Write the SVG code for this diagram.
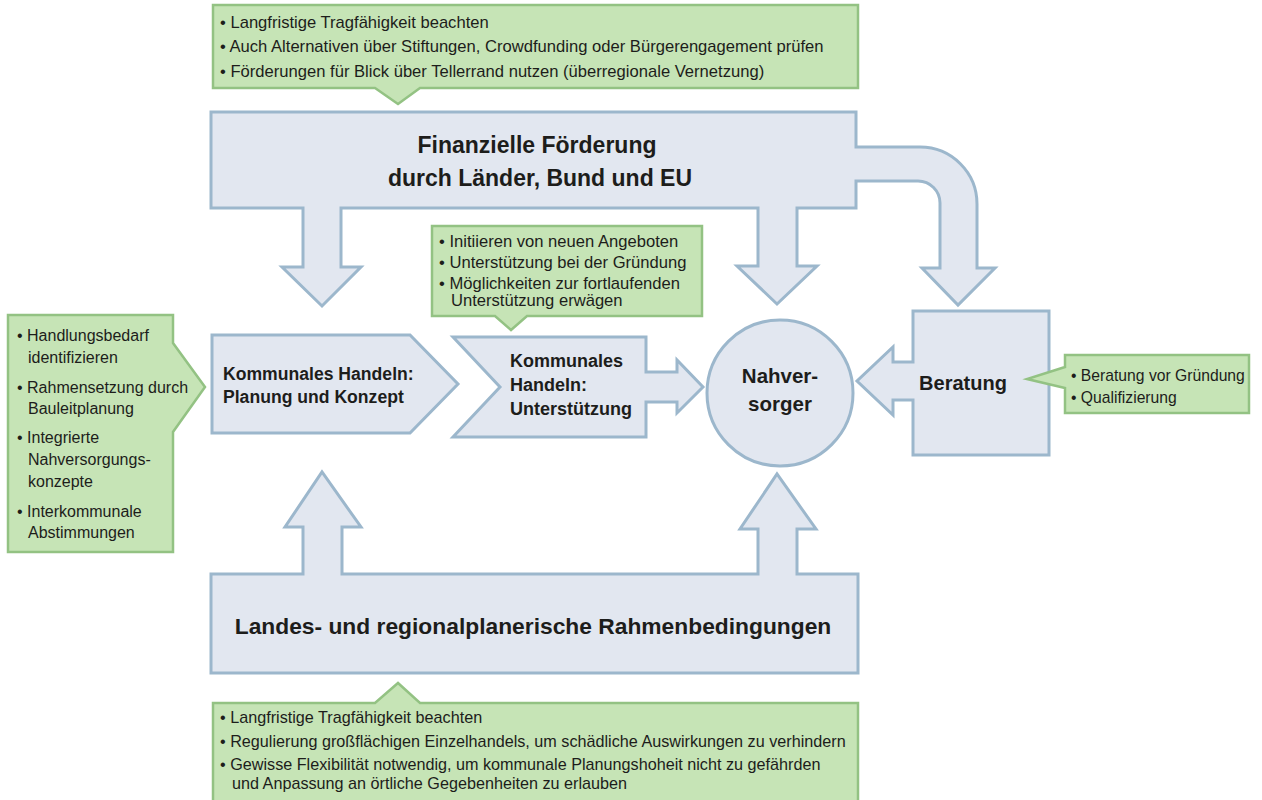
<svg xmlns="http://www.w3.org/2000/svg" width="1262" height="800" viewBox="0 0 1262 800">
<style>
.note{fill:#c6e4b6;stroke:#93c283;stroke-width:2.5;stroke-linejoin:miter}
.blk{fill:#e2e7f0;stroke:#9cb7cc;stroke-width:3;stroke-linejoin:miter}
.t{font-family:"Liberation Sans",Arial,sans-serif;font-size:16.6px;fill:#1d1d1b}
.s{font-size:16px}
.r{font-size:15.7px}
.u{font-size:16.2px}
.b{font-family:"Liberation Sans",Arial,sans-serif;font-weight:bold;fill:#1d1d1b}
</style>
<rect width="1262" height="800" fill="#ffffff"/>
<g id="connectors">
<path class="blk" d="M211,112 H856 V147 H920 A57,57 0 0 1 977,204 V268 H995 L958,305 L922,268 H940 V203 A22,22 0 0 0 918,181 H856 V208 H797 V266 H817 L777,304 L737,266 H758 V208 H341 V267 H361 L322,306 L282,267 H303 V208 H211 Z"/>
<path class="blk" d="M211,574 H303 V527 H285 L322,472 L361,527 H342 V574 H758 V529 H740 L777,474 L816,529 H797 V574 H858 V673 H211 Z"/>
</g>
<g id="foerderung">
<text class="b" font-size="23" text-anchor="middle" x="537" y="153">Finanzielle Förderung</text>
<text class="b" font-size="23" text-anchor="middle" x="540" y="186">durch Länder, Bund und EU</text>
</g>
<g id="rahmen">
<text class="b" font-size="22.8" text-anchor="middle" x="533" y="634">Landes- und regionalplanerische  Rahmenbedingungen</text>
</g>
<g id="note-top">
<path class="note" d="M213,5 H858 V88 H420 L398,104 L375,88 H213 Z"/>
<text class="t" x="220" y="28">• Langfristige Tragfähigkeit beachten</text>
<text class="t" x="220" y="52">• Auch Alternativen über Stiftungen, Crowdfunding oder Bürgerengagement prüfen</text>
<text class="t" x="220" y="77">• Förderungen für Blick über Tellerrand nutzen (überregionale Vernetzung)</text>
</g>
<g id="note-mid">
<path class="note" d="M432,226 H702 V316 H527 L511,330 L495,316 H432 Z"/>
<text class="t" x="439" y="247">• Initiieren von neuen Angeboten</text>
<text class="t" x="439" y="268">• Unterstützung bei der Gründung</text>
<text class="t" x="439" y="289">• Möglichkeiten zur fortlaufenden</text>
<text class="t" x="451" y="306">Unterstützung erwägen</text>
</g>
<g id="note-left">
<path class="note" d="M8,315 H173 V343 L205,387 L173,432 V552 H8 Z"/>
<text class="t s" x="17" y="341">• Handlungsbedarf</text>
<text class="t s" x="28" y="363">identifizieren</text>
<text class="t s" x="17" y="393">• Rahmensetzung durch</text>
<text class="t s" x="28" y="414">Bauleitplanung</text>
<text class="t s" x="17" y="443">• Integrierte</text>
<text class="t s" x="28" y="465">Nahversorgungs-</text>
<text class="t s" x="28" y="487">konzepte</text>
<text class="t s" x="17" y="517">• Interkommunale</text>
<text class="t s" x="28" y="538">Abstimmungen</text>
</g>
<g id="planung">
<path class="blk" d="M212,335 H410 L458,384 L410,433 H212 Z"/>
<text class="b" font-size="17.6" x="223" y="380">Kommunales Handeln:</text>
<text class="b" font-size="17.6" x="223" y="403">Planung und Konzept</text>
</g>
<g id="unterstuetzung">
<path class="blk" d="M453,337 H646 V372 H677 V360 L703,387 L677,413 V402 H646 V437 H453 L500,387 Z"/>
<text class="b" font-size="18" x="510" y="367">Kommunales</text>
<text class="b" font-size="18" x="510" y="391">Handeln:</text>
<text class="b" font-size="18" x="510" y="415">Unterstützung</text>
</g>
<g id="nahversorger">
<circle class="blk" cx="780" cy="393" r="73"/>
<text class="b" font-size="20.5" text-anchor="middle" x="780" y="383">Nahver-</text>
<text class="b" font-size="20.5" text-anchor="middle" x="780" y="411">sorger</text>
</g>
<g id="beratung">
<path class="blk" d="M913,311 H1049 V455 H913 V400 H893 V415 L857,381 L893,347 V362 H913 Z"/>
<text class="b" font-size="20" text-anchor="middle" x="963" y="390">Beratung</text>
</g>
<g id="note-right">
<path class="note" d="M1065,355 H1249 V413 H1065 V388 L1027,379 L1065,367 Z"/>
<text class="t r" x="1071" y="381">• Beratung vor Gründung</text>
<text class="t r" x="1071" y="403">• Qualifizierung</text>
</g>
<g id="note-bottom">
<path class="note" d="M213,703 H375 L398,683 L420,703 H858 V806 H213 Z"/>
<text class="t u" x="220" y="723">• Langfristige Tragfähigkeit beachten</text>
<text class="t u" x="220" y="747">• Regulierung großflächigen Einzelhandels, um schädliche Auswirkungen zu verhindern</text>
<text class="t u" x="220" y="770">• Gewisse Flexibilität notwendig, um kommunale Planungshoheit nicht zu gefährden</text>
<text class="t u" x="232" y="789">und Anpassung an örtliche Gegebenheiten zu erlauben</text>
</g>
</svg>
